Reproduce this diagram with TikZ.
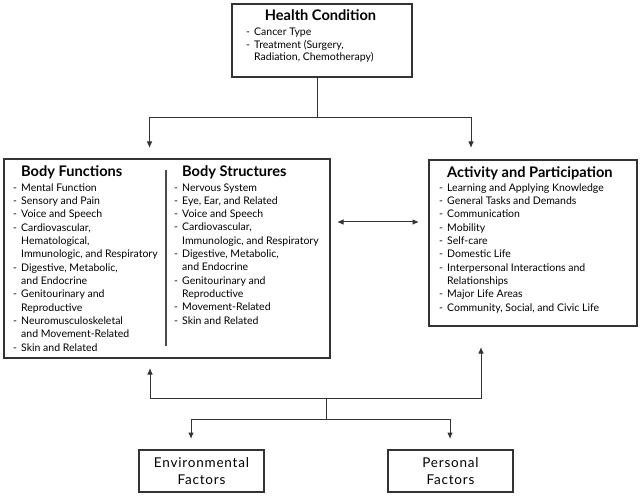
\documentclass[tikz,border=0pt]{standalone}
\usepackage{fontspec}
\setmainfont{Lato}
\newfontfamily\facfont[LetterSpace=6]{Lato}
\usetikzlibrary{arrows.meta}
\newcommand{\ii}{\hspace*{8pt}}
\newcommand{\dd}{\makebox[8pt][l]{-}}
\begin{document}
\begin{tikzpicture}[x=1pt,y=-1pt,
  box/.style={draw=black!80, line width=1.1pt, inner sep=0pt},
  ttl/.style={inner sep=0pt, font=\fontsize{14.6}{16}\selectfont\bfseries},
  lst/.style={inner sep=0pt, align=left, anchor=base west, font=\fontsize{10.5}{13.33}\selectfont},
  fac/.style={inner sep=0pt, align=center, font=\facfont\fontsize{13.5}{16.7}\selectfont},
  ln/.style={draw=black!80, line width=1pt},
  arr/.style={ln, -{Latex[length=6.5pt,width=5.5pt]}},
  arrb/.style={ln, {Latex[length=6.5pt,width=5.5pt]}-{Latex[length=6.5pt,width=5.5pt]}}]
\useasboundingbox (0,0) rectangle (640,497);
% boxes
\node[box, minimum width=180pt, minimum height=73pt] (hc) at (322,40.5) {};
\node[box, minimum width=326pt, minimum height=199pt] (bb) at (167,258.5) {};
\node[box, minimum width=208pt, minimum height=166pt] (ap) at (533,243) {};
\node[box, minimum width=125pt, minimum height=42pt, fac] (ef) at (201.5,471) {Environmental\\Factors};
\node[box, minimum width=125pt, minimum height=42pt, fac] (pf) at (450.5,471) {Personal\\Factors};
% divider
\coordinate (dv1) at (166,170);
\coordinate (dv2) at (166,346);
\draw[draw=black!70, line width=1.1pt] (dv1) -- (dv2);
% health condition text (anchor at baseline of last line)
\node[ttl, anchor=base] (hct) at (320.5,21) {Health Condition};
\node[lst, font=\fontsize{10.5}{12.5}\selectfont] (hcl) at (246,61) {\dd Cancer Type\\\dd Treatment (Surgery,\\\ii Radiation, Chemotherapy)};
% body functions
\node[ttl, anchor=base west] (bft) at (21,177) {Body Functions};
\node[lst] (bfl) at (13,351) {\dd Mental Function\\\dd Sensory and Pain\\\dd Voice and Speech\\\dd Cardiovascular,\\\ii Hematological,\\\ii Immunologic, and Respiratory\\\dd Digestive, Metabolic,\\\ii and Endocrine\\\dd Genitourinary and\\\ii Reproductive\\\dd Neuromusculoskeletal\\\ii and Movement-Related\\\dd Skin and Related};
% body structures
\node[ttl, anchor=base west] (bst) at (182,177) {Body Structures};
\node[lst] (bsl) at (174,324.3) {\dd Nervous System\\\dd Eye, Ear, and Related\\\dd Voice and Speech\\\dd Cardiovascular,\\\ii Immunologic, and Respiratory\\\dd Digestive, Metabolic,\\\ii and Endocrine\\\dd Genitourinary and\\\ii Reproductive\\\dd Movement-Related\\\dd Skin and Related};
% activity
\node[ttl, anchor=base west] (apt) at (447,178) {Activity and Participation};
\node[lst] (apl) at (439,311) {\dd Learning and Applying Knowledge\\\dd General Tasks and Demands\\\dd Communication\\\dd Mobility\\\dd Self-care\\\dd Domestic Life\\\dd Interpersonal Interactions and\\\ii Relationships\\\dd Major Life Areas\\\dd Community, Social, and Civic Life};
% connectors top
\coordinate (j1) at (317,118);
\coordinate (t1) at (149.5,148);
\coordinate (t2) at (471,148);
\draw[ln] (j1 |- hc.south) -- (j1);
\draw[arr] (j1) -| (t1);
\draw[arr] (j1) -| (t2);
% double arrow
\coordinate (d1) at (337,222);
\coordinate (d2) at (419,222);
\draw[arrb] (d1) -- (d2);
% bottom connectors
\coordinate (j2) at (326,398);
\coordinate (j3) at (326,419);
\coordinate (t3) at (150,368);
\coordinate (t4) at (481,347);
\coordinate (t5) at (191,439);
\coordinate (t6) at (450,439);
\draw[arr] (j2) -| (t3);
\draw[arr] (j2) -| (t4);
\draw[ln] (j2) -- (j3);
\draw[arr] (j3) -| (t5);
\draw[arr] (j3) -| (t6);
\end{tikzpicture}
\end{document}
